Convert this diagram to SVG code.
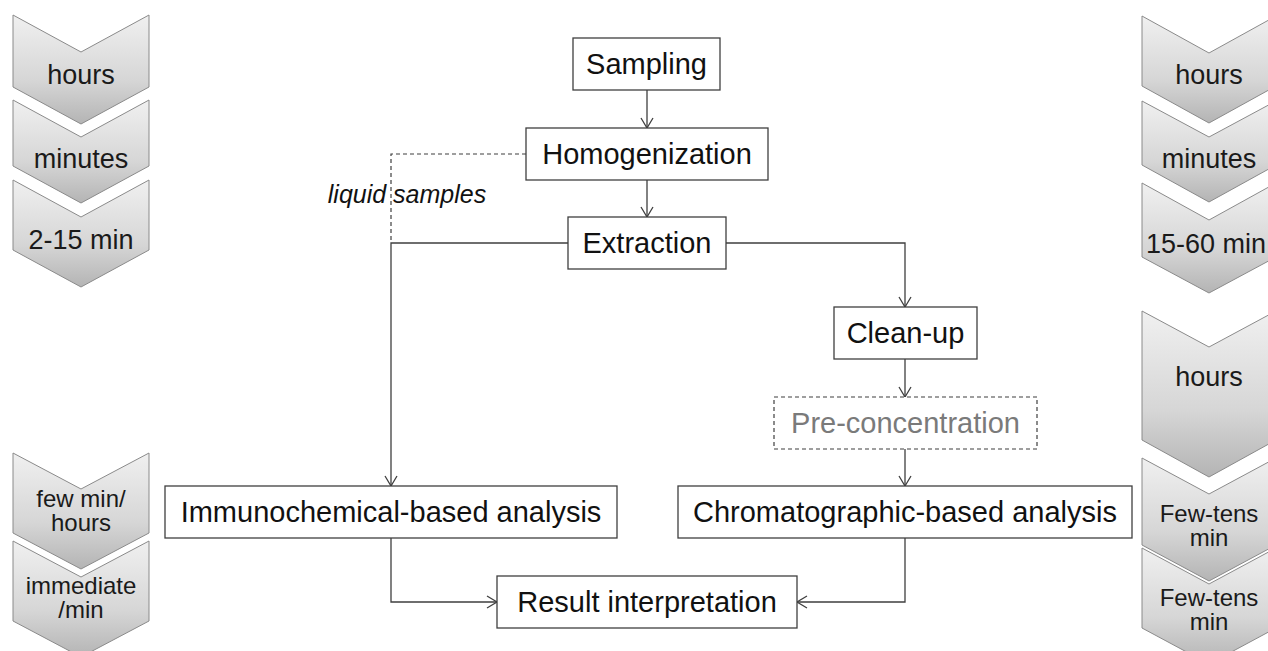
<svg xmlns="http://www.w3.org/2000/svg" width="1268" height="651" viewBox="0 0 1268 651">
<style>
.box{fill:#fff;stroke:#3f3f3f;stroke-width:1.3}
.dbox{fill:#fff;stroke:#3f3f3f;stroke-width:1.2;stroke-dasharray:4 3}
.lbl{font-family:"Liberation Sans",Arial,sans-serif;font-size:29px;fill:#111;text-anchor:middle}
.glbl{fill:#7a7a7a}
.chev{fill:url(#cg);stroke:#8a8a8a;stroke-width:1}
.ct{font-family:"Liberation Sans",Arial,sans-serif;font-size:27px;fill:#1a1a1a;text-anchor:middle}
.ct2{font-family:"Liberation Sans",Arial,sans-serif;font-size:24px;fill:#1a1a1a;text-anchor:middle}
.con{fill:none;stroke:#3f3f3f;stroke-width:1.3}
.dash{fill:none;stroke:#3f3f3f;stroke-width:1.2;stroke-dasharray:4 3}
.it{font-family:"Liberation Sans",Arial,sans-serif;font-size:25px;font-style:italic;fill:#111;text-anchor:middle}
</style>
<defs>
<linearGradient id="cg" x1="0" y1="0" x2="0" y2="1">
<stop offset="0" stop-color="#f0f0f0"/>
<stop offset="0.6" stop-color="#d6d6d6"/>
<stop offset="1" stop-color="#b4b4b4"/>
</linearGradient>
<marker id="ah" markerUnits="userSpaceOnUse" markerWidth="14" markerHeight="14" viewBox="-12 -7 14 14" refX="0" refY="0" orient="auto">
<path d="M-10,-6 L0,0 L-10,6" fill="none" stroke="#3f3f3f" stroke-width="1.3"/>
</marker>
</defs>

<g id="time-left">
<g id="tl1"><path class="chev" d="M13,15 L81,52 L149,15 L149,87 L81,124 L13,87 Z"/><text class="ct" x="81" y="84">hours</text></g>
<g id="tl2"><path class="chev" d="M13,100 L81,137 L149,100 L149,166 L81,203 L13,166 Z"/><text class="ct" x="81" y="168">minutes</text></g>
<g id="tl3"><path class="chev" d="M13,180 L81,217 L149,180 L149,250 L81,287 L13,250 Z"/><text class="ct" x="81" y="249">2-15 min</text></g>
<g id="tl4"><path class="chev" d="M13,453 L81,489 L149,453 L149,533 L81,569 L13,533 Z"/><text class="ct2" x="81" y="507">few min/</text><text class="ct2" x="81" y="531">hours</text></g>
<g id="tl5"><path class="chev" d="M13,541 L81,577 L149,541 L149,621 L81,657 L13,621 Z"/><text class="ct2" x="81" y="594">immediate</text><text class="ct2" x="81" y="618">/min</text></g>
</g>

<g id="time-right">
<g id="tr1"><path class="chev" d="M1142,16 L1209,53 L1276,16 L1276,86 L1209,123 L1142,86 Z"/><text class="ct" x="1209" y="84">hours</text></g>
<g id="tr2"><path class="chev" d="M1142,101 L1209,137 L1276,101 L1276,165 L1209,202 L1142,165 Z"/><text class="ct" x="1209" y="168">minutes</text></g>
<g id="tr3"><path class="chev" d="M1142,183 L1209,220 L1276,183 L1276,257 L1209,293 L1142,257 Z"/><text class="ct" x="1206" y="253">15-60 min</text></g>
<g id="tr4"><path class="chev" d="M1142,311 L1209,347 L1276,311 L1276,440 L1209,477 L1142,440 Z"/><text class="ct" x="1209" y="386">hours</text></g>
<g id="tr5"><path class="chev" d="M1142,458 L1209,494 L1276,458 L1276,545 L1209,581 L1142,545 Z"/><text class="ct2" x="1209" y="522">Few-tens</text><text class="ct2" x="1209" y="546">min</text></g>
<g id="tr6"><path class="chev" d="M1142,548 L1209,584 L1276,548 L1276,628 L1209,664 L1142,628 Z"/><text class="ct2" x="1209" y="606">Few-tens</text><text class="ct2" x="1209" y="630">min</text></g>
</g>

<g id="connectors">
<path class="con" d="M647,90 V128" marker-end="url(#ah)"/>
<path class="con" d="M647,180 V217" marker-end="url(#ah)"/>
<path class="dash" d="M526,154 H391 V243"/>
<path class="con" d="M568,243 H391 V486" marker-end="url(#ah)"/>
<path class="con" d="M726,243 H905 V307" marker-end="url(#ah)"/>
<path class="con" d="M905,359 V397" marker-end="url(#ah)"/>
<path class="con" d="M905,449 V486" marker-end="url(#ah)"/>
<path class="con" d="M391,538 V602 H497" marker-end="url(#ah)"/>
<path class="con" d="M905,538 V602 H797" marker-end="url(#ah)"/>
<text class="it" x="407" y="203">liquid samples</text>
</g>

<g id="sampling"><rect class="box" x="573" y="38" width="147" height="52"/><text class="lbl" x="646.5" y="74">Sampling</text></g>
<g id="homogenization"><rect class="box" x="526" y="128" width="242" height="52"/><text class="lbl" x="647" y="164">Homogenization</text></g>
<g id="extraction"><rect class="box" x="568" y="217" width="158" height="52"/><text class="lbl" x="647" y="253">Extraction</text></g>
<g id="cleanup"><rect class="box" x="834" y="307" width="143" height="52"/><text class="lbl" x="905.5" y="343">Clean-up</text></g>
<g id="preconcentration"><rect class="dbox" x="774" y="397" width="263" height="52"/><text class="lbl glbl" x="905.5" y="433">Pre-concentration</text></g>
<g id="immunochemical"><rect class="box" x="165" y="486" width="452" height="52"/><text class="lbl" x="391" y="522">Immunochemical-based analysis</text></g>
<g id="chromatographic"><rect class="box" x="678" y="486" width="454" height="52"/><text class="lbl" x="905" y="522">Chromatographic-based analysis</text></g>
<g id="result"><rect class="box" x="497" y="576" width="300" height="52"/><text class="lbl" x="647" y="612">Result interpretation</text></g>
</svg>
